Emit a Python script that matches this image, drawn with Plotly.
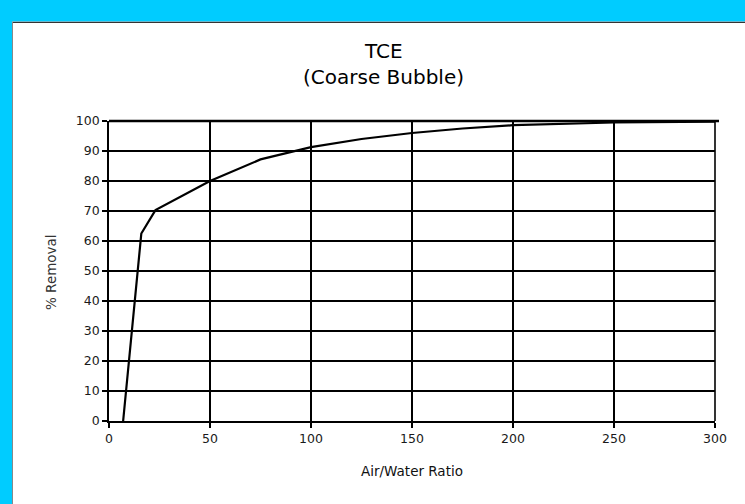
import plotly.graph_objects as go

# Data
air_water_ratio = [7, 16, 23, 50, 75, 100, 125, 150, 175, 200, 250, 300]
pct_removal = [0, 62.5, 70.3, 80, 87.2, 91.3, 94.0, 96.0, 97.5, 98.6, 99.5, 99.8]

x_ticks = [0, 50, 100, 150, 200, 250, 300]
y_ticks = [0, 10, 20, 30, 40, 50, 60, 70, 80, 90, 100]

title_line1 = "TCE"
title_line2 = "(Coarse Bubble)"
x_title = "Air/Water Ratio"
y_title = "% Removal"

W, H = 745, 504
L, R, T, B = 109, 30, 121, 83
PW, PH = W - L - R, H - T - B

def px_x(px):
    return (px - L) / PW

def px_y(py):
    return (H - B - py) / PH

fig = go.Figure()
fig.add_trace(go.Scatter(
    x=air_water_ratio, y=pct_removal, mode="lines",
    line=dict(color="black", width=2.2), showlegend=False, hoverinfo="skip"))

font = "DejaVu Sans, sans-serif"
tick_font = dict(size=12.5, family=font, color="#1a1a1a")

fig.update_layout(
    width=W, height=H,
    margin=dict(l=L, r=R, t=T, b=B),
    paper_bgcolor="white", plot_bgcolor="white",
    font=dict(family=font, color="#111"),
    xaxis=dict(range=[0, 300], tickvals=x_ticks, ticktext=[str(v) for v in x_ticks],
               showgrid=True, gridcolor="black", gridwidth=1.6,
               showline=True, linecolor="black", linewidth=1.6,
               ticks="outside", ticklen=5, tickcolor="black", tickwidth=1.6,
               tickfont=tick_font, zeroline=False, fixedrange=True),
    yaxis=dict(range=[0, 100], tickvals=y_ticks, ticktext=[str(v) for v in y_ticks],
               showgrid=True, gridcolor="black", gridwidth=1.6,
               showline=True, linecolor="black", linewidth=1.6,
               ticks="outside", ticklen=5, tickcolor="black", tickwidth=1.6,
               tickfont=tick_font, zeroline=False, fixedrange=True),
)

shapes = [
    # cyan frame top and left
    dict(type="rect", xref="paper", yref="paper", x0=px_x(0), x1=px_x(W), y0=px_y(21.5), y1=px_y(0),
         fillcolor="#00CCFF", line=dict(width=0), layer="below"),
    dict(type="rect", xref="paper", yref="paper", x0=px_x(0), x1=px_x(12), y0=px_y(H), y1=px_y(0),
         fillcolor="#00CCFF", line=dict(width=0), layer="below"),
    # thin dark inner edges
    dict(type="line", xref="paper", yref="paper", x0=px_x(12), x1=px_x(W), y0=px_y(22.3), y1=px_y(22.3),
         line=dict(color="#333", width=1.3)),
    dict(type="line", xref="paper", yref="paper", x0=px_x(12.5), x1=px_x(12.5), y0=px_y(H), y1=px_y(22),
         line=dict(color="#888", width=1)),
    # thick top border of plot
    dict(type="line", xref="paper", yref="paper", x0=0, x1=px_x(719), y0=1, y1=1,
         line=dict(color="black", width=2.6)),
    # right border
    dict(type="line", xref="paper", yref="paper", x0=1, x1=1, y0=0, y1=1,
         line=dict(color="black", width=1.6)),
]
fig.update_layout(shapes=shapes)

title_font = dict(size=20, family=font, color="#000")
fig.add_annotation(text=title_line1, xref="paper", yref="paper", x=px_x(383), y=px_y(51),
                   showarrow=False, font=title_font, xanchor="center", yanchor="middle")
fig.add_annotation(text=title_line2, xref="paper", yref="paper", x=px_x(383.5), y=px_y(77),
                   showarrow=False, font=title_font, xanchor="center", yanchor="middle")
fig.add_annotation(text=x_title, xref="paper", yref="paper", x=px_x(412), y=px_y(471),
                   showarrow=False, font=dict(size=13.5, family=font, color="#111"),
                   xanchor="center", yanchor="middle")
fig.add_annotation(text=y_title, xref="paper", yref="paper", x=px_x(51), y=px_y(272),
                   showarrow=False, textangle=-90,
                   font=dict(size=13.5, family=font, color="#333"),
                   xanchor="center", yanchor="middle")

fig.write_html("out.html", config={"displayModeBar": False},
               post_script="document.body.style.margin='0px';")
